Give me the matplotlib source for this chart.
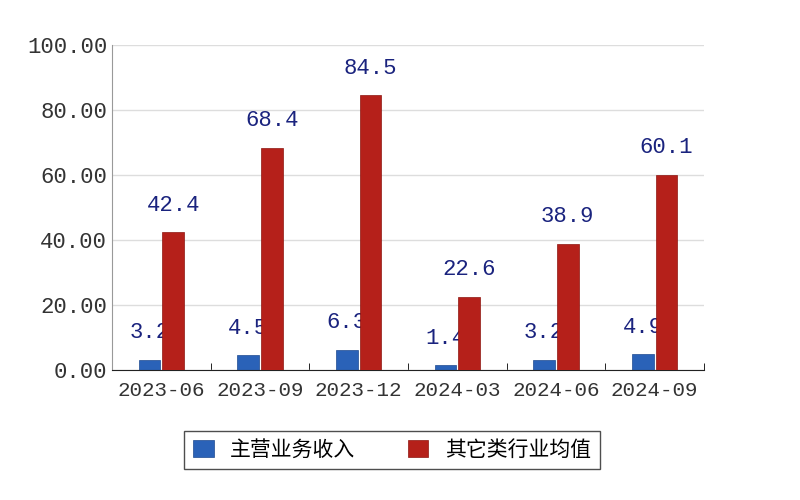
import matplotlib
matplotlib.use("Agg")
import matplotlib.pyplot as plt
import numpy as np

categories = ["2023-06", "2023-09", "2023-12", "2024-03", "2024-06", "2024-09"]
main_income = [3.2, 4.5, 6.3, 1.4, 3.2, 4.9]
industry_avg = [42.4, 68.4, 84.5, 22.6, 38.9, 60.1]
legend_labels = ["主营业务收入", "其它类行业均值"]
yticks = [0, 20, 40, 60, 80, 100]

plt.rcParams['font.family'] = ['Liberation Mono', 'Noto Sans CJK SC', 'DejaVu Sans']
fig = plt.figure(figsize=(8, 5), dpi=100)
ax = fig.add_axes([0.14, 0.26, 0.74, 0.65])
x = np.arange(len(categories))
w = 0.22
b1 = ax.bar(x - 0.12, main_income, w, color='#2a62b8', edgecolor='#1d4a90', linewidth=0.5, zorder=2)
b2 = ax.bar(x + 0.12, industry_avg, w, color='#b5201a', edgecolor='#8e1510', linewidth=0.5, zorder=4)
for xi, v in zip(x, main_income):
    ax.text(xi - 0.12, v + 5, f"{v:.1f}", ha='center', va='bottom', color='#1a237e', fontsize=16, zorder=3)
for xi, v in zip(x, industry_avg):
    ax.text(xi + 0.12, v + 5, f"{v:.1f}", ha='center', va='bottom', color='#1a237e', fontsize=16, zorder=5)
ax.set_xlim(-0.5, len(categories) - 0.5)
ax.set_ylim(0, 100)
ax.set_yticks(yticks)
ax.set_yticklabels([f"{t:.2f}" for t in yticks], fontsize=16, color='#333333')
ax.set_xticks(x)
ax.set_xticklabels(categories, fontsize=15, color='#333333')
ax.set_xticks(np.arange(len(categories) + 1) - 0.5, minor=True)
ax.tick_params(axis='x', which='major', length=0, pad=8)
ax.tick_params(axis='x', which='minor', length=5, direction='in')
ax.tick_params(axis='y', length=0)
ax.yaxis.grid(True, color='#dddddd', linewidth=1)
ax.set_axisbelow(True)
for s in ['top', 'right']:
    ax.spines[s].set_visible(False)
ax.spines['left'].set_color('#999999')
ax.spines['bottom'].set_color('#222222')
fig.legend([b1, b2], legend_labels, loc='center', bbox_to_anchor=(0.49, 0.1), ncol=2,
           fancybox=False, edgecolor='#222222', prop={'family': 'Noto Sans CJK SC', 'size': 15},
           handlelength=1.0, handleheight=0.9, columnspacing=2.5)
fig.savefig("out.png", dpi=100)
